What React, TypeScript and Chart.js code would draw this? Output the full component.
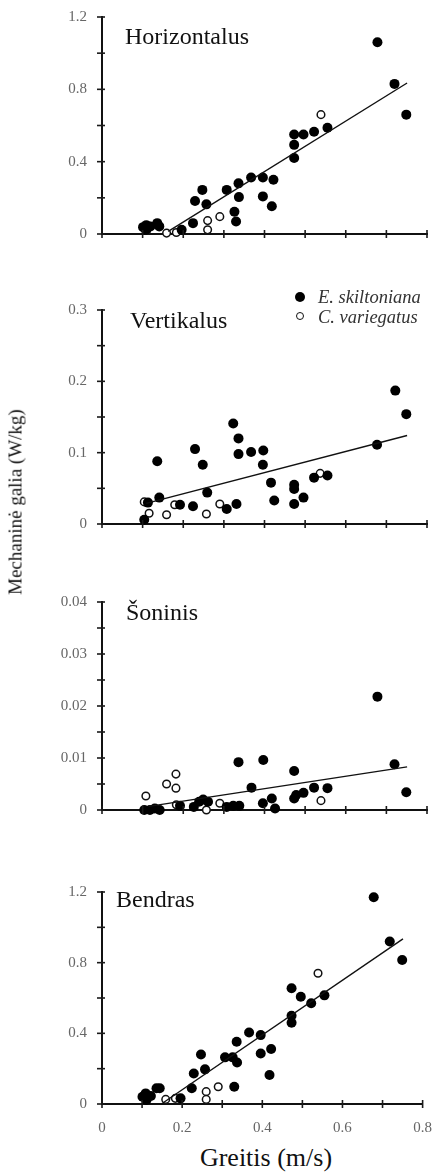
import React, { useEffect, useRef } from 'react';
import { Chart, registerables } from 'chart.js';

Chart.register(...registerables);

const FONT = '"Liberation Serif", "Times New Roman", serif';

// Shared x axis
const xTickValues = [0, 0.1, 0.2, 0.3, 0.4, 0.5, 0.6, 0.7, 0.8];
const xLabelValues = [0, 0.2, 0.4, 0.6, 0.8];

// Panel 1: Horizontalus
const hFilledX = [0.101, 0.109, 0.119, 0.136, 0.141, 0.108, 0.196, 0.224, 0.229, 0.247, 0.257, 0.307, 0.336, 0.337, 0.326, 0.330, 0.367, 0.396, 0.396, 0.422, 0.418, 0.473, 0.473, 0.473, 0.496, 0.522, 0.555, 0.678, 0.720, 0.749];
const hFilledY = [0.038, 0.049, 0.042, 0.060, 0.042, 0.023, 0.023, 0.060, 0.182, 0.244, 0.164, 0.244, 0.280, 0.204, 0.123, 0.069, 0.312, 0.312, 0.208, 0.300, 0.153, 0.420, 0.493, 0.550, 0.550, 0.565, 0.588, 1.060, 0.830, 0.660];
const hOpenX = [0.110, 0.159, 0.183, 0.260, 0.260, 0.290, 0.539];
const hOpenY = [0.020, 0.005, 0.008, 0.074, 0.023, 0.096, 0.660];
const hLineX = [0.163, 0.751];
const hLineY = [0.014, 0.835];
const hYTicks = [0, 0.2, 0.4, 0.6, 0.8, 1.0, 1.2];
const hYLabels = [0, 0.4, 0.8, 1.2];

// Panel 2: Vertikalus
const vFilledX = [0.104, 0.113, 0.136, 0.141, 0.192, 0.224, 0.229, 0.248, 0.259, 0.307, 0.331, 0.323, 0.336, 0.336, 0.367, 0.397, 0.396, 0.416, 0.424, 0.473, 0.473, 0.473, 0.496, 0.522, 0.555, 0.677, 0.722, 0.749];
const vFilledY = [0.006, 0.030, 0.088, 0.037, 0.027, 0.025, 0.105, 0.083, 0.044, 0.021, 0.028, 0.141, 0.120, 0.098, 0.101, 0.103, 0.083, 0.058, 0.033, 0.055, 0.049, 0.028, 0.037, 0.065, 0.068, 0.111, 0.187, 0.154];
const vOpenX = [0.104, 0.116, 0.159, 0.179, 0.257, 0.290, 0.537];
const vOpenY = [0.031, 0.015, 0.013, 0.027, 0.014, 0.028, 0.071];
const vLineX = [0.109, 0.751];
const vLineY = [0.029, 0.124];
const vYTicks = [0, 0.05, 0.1, 0.15, 0.2, 0.25, 0.3];
const vYLabels = [0, 0.1, 0.2, 0.3];

// Panel 3: Šoninis
const sFilledX = [0.104, 0.118, 0.130, 0.142, 0.192, 0.226, 0.239, 0.249, 0.261, 0.307, 0.323, 0.338, 0.336, 0.368, 0.397, 0.396, 0.418, 0.426, 0.473, 0.473, 0.478, 0.496, 0.522, 0.555, 0.678, 0.720, 0.749];
const sFilledY = [0.0000, 0.0000, 0.0003, 0.0000, 0.0008, 0.0006, 0.0016, 0.0020, 0.0016, 0.0006, 0.0008, 0.0008, 0.0092, 0.0043, 0.0096, 0.0013, 0.0022, 0.0003, 0.0075, 0.0022, 0.0029, 0.0033, 0.0043, 0.0042, 0.0218, 0.0088, 0.0034];
const sOpenX = [0.108, 0.159, 0.182, 0.182, 0.183, 0.257, 0.290, 0.539];
const sOpenY = [0.0027, 0.0050, 0.0042, 0.0069, 0.0010, 0.0000, 0.0013, 0.0018];
const sLineX = [0.115, 0.751];
const sLineY = [0.0007, 0.0083];
const sYTicks = [0, 0.005, 0.01, 0.015, 0.02, 0.025, 0.03, 0.035, 0.04];
const sYLabels = [0, 0.01, 0.02, 0.03, 0.04];

// Panel 4: Bendras
const bFilledX = [0.101, 0.109, 0.122, 0.136, 0.144, 0.111, 0.196, 0.224, 0.229, 0.247, 0.257, 0.307, 0.326, 0.336, 0.337, 0.330, 0.367, 0.396, 0.396, 0.422, 0.418, 0.473, 0.473, 0.473, 0.496, 0.522, 0.555, 0.678, 0.718, 0.749];
const bFilledY = [0.041, 0.060, 0.045, 0.089, 0.089, 0.023, 0.032, 0.089, 0.173, 0.280, 0.196, 0.264, 0.264, 0.352, 0.235, 0.098, 0.405, 0.390, 0.286, 0.311, 0.164, 0.655, 0.500, 0.460, 0.607, 0.570, 0.615, 1.170, 0.920, 0.815];
const bOpenX = [0.159, 0.183, 0.260, 0.260, 0.290, 0.539];
const bOpenY = [0.026, 0.032, 0.070, 0.026, 0.098, 0.740];
const bLineX = [0.148, 0.751];
const bLineY = [0.0, 0.935];
const bYTicks = [0, 0.2, 0.4, 0.6, 0.8, 1.0, 1.2];
const bYLabels = [0, 0.4, 0.8, 1.2];

const panelTitles = ['Horizontalus', 'Vertikalus', 'Šoninis', 'Bendras'];
const legendLabels = ['E. skiltoniana', 'C. variegatus'];
const xTitle = 'Greitis (m/s)';
const yTitle = 'Mechaninė galia (W/kg)';

const zip = (xs: number[], ys: number[]) => xs.map((x, i) => ({ x, y: ys[i] }));

const panels = [
  { fx: hFilledX, fy: hFilledY, ox: hOpenX, oy: hOpenY, lx: hLineX, ly: hLineY, yTicks: hYTicks, yLabels: hYLabels, top: 17, bottom: 238, showX: false },
  { fx: vFilledX, fy: vFilledY, ox: vOpenX, oy: vOpenY, lx: vLineX, ly: vLineY, yTicks: vYTicks, yLabels: vYLabels, top: 310, bottom: 528, showX: false },
  { fx: sFilledX, fy: sFilledY, ox: sOpenX, oy: sOpenY, lx: sLineX, ly: sLineY, yTicks: sYTicks, yLabels: sYLabels, top: 602, bottom: 814, showX: false },
  { fx: bFilledX, fy: bFilledY, ox: bOpenX, oy: bOpenY, lx: bLineX, ly: bLineY, yTicks: bYTicks, yLabels: bYLabels, top: 892, bottom: 1104, showX: true },
];

const PAD_TOP = 20;
const Y_W = 60;
const LEFT = 102;
const RIGHT = 427;
const W = 439;

const crossTicks = {
  id: 'crossTicks',
  afterDraw(chart: any) {
    const o = chart.options.plugins.crossTicks;
    if (!o) return;
    const { ctx } = chart;
    const xs = chart.scales.x;
    const ys = chart.scales.y;
    ctx.save();
    ctx.strokeStyle = '#1a1a1a';
    ctx.lineWidth = 1.6;
    const x0 = chart.chartArea.left;
    for (const v of o.yTicks) {
      const y = ys.getPixelForValue(v);
      ctx.beginPath();
      ctx.moveTo(x0 - 5, y);
      ctx.lineTo(x0 + 3, y);
      ctx.stroke();
    }
    const y0 = chart.chartArea.bottom;
    for (const v of o.xTicks) {
      const x = xs.getPixelForValue(v);
      ctx.beginPath();
      ctx.moveTo(x, y0 - 4);
      ctx.lineTo(x, y0 + 4);
      ctx.stroke();
    }
    ctx.restore();
  },
};

function fmt(v: number) {
  return String(Math.round(v * 1000) / 1000);
}

function Panel({ p }: { p: any }) {
  const ref = useRef<HTMLCanvasElement | null>(null);
  const xH = p.showX ? 30 : 12;
  const h = p.bottom - p.top + PAD_TOP + xH;
  useEffect(() => {
    if (!ref.current) return;
    const chart = new Chart(ref.current, {
      type: 'scatter',
      data: {
        datasets: [
          {
            data: zip(p.lx, p.ly),
            showLine: true,
            borderColor: '#111',
            borderWidth: 1.4,
            pointRadius: 0,
            clip: false,
          } as any,
          {
            data: zip(p.fx, p.fy),
            pointStyle: 'circle',
            pointRadius: 5,
            backgroundColor: '#000',
            borderColor: '#000',
            borderWidth: 0,
            clip: false,
          },
          {
            data: zip(p.ox, p.oy),
            pointStyle: 'circle',
            pointRadius: 3.8,
            backgroundColor: '#fff',
            borderColor: '#111',
            borderWidth: 1.5,
            clip: false,
          },
        ],
      },
      options: {
        animation: false,
        responsive: false,
        maintainAspectRatio: false,
        events: [],
        layout: { padding: { top: PAD_TOP, bottom: 0, left: LEFT - Y_W, right: W - RIGHT } },
        plugins: {
          legend: { display: false },
          tooltip: { enabled: false },
          crossTicks: { yTicks: p.yTicks, xTicks: xTickValues },
        } as any,
        scales: {
          x: {
            type: 'linear',
            min: 0,
            max: 0.8,
            grid: { display: false },
            border: { display: true, color: '#111', width: 2 },
            afterBuildTicks: (s: any) => {
              s.ticks = xLabelValues.map((v) => ({ value: v }));
            },
            afterFit: (s: any) => {
              s.height = xH;
            },
            ticks: {
              display: p.showX,
              padding: 7,
              color: '#666',
              font: { family: FONT, size: 15 },
              callback: (v: any) => fmt(Number(v)),
              maxRotation: 0,
              autoSkip: false,
            },
          },
          y: {
            type: 'linear',
            min: 0,
            max: p.yTicks[p.yTicks.length - 1],
            grid: { display: false },
            border: { display: true, color: '#111', width: 2 },
            afterBuildTicks: (s: any) => {
              s.ticks = p.yLabels.map((v: number) => ({ value: v }));
            },
            afterFit: (s: any) => {
              s.width = Y_W;
            },
            ticks: {
              padding: 7,
              color: '#666',
              font: { family: FONT, size: 15 },
              callback: (v: any) => fmt(Number(v)),
              autoSkip: false,
            },
          },
        },
      },
      plugins: [crossTicks],
    });
    return () => chart.destroy();
  }, []);
  return (
    <canvas
      ref={ref}
      width={W}
      height={h}
      style={{ position: 'absolute', left: 0, top: p.top - PAD_TOP, width: W, height: h, display: 'block' }}
    />
  );
}

const textBase: React.CSSProperties = {
  position: 'absolute',
  fontFamily: FONT,
  color: '#111',
  whiteSpace: 'nowrap',
  lineHeight: 1,
};

export default function App() {
  const titlePos = [
    { left: 125, top: 24 },
    { left: 130, top: 308 },
    { left: 126, top: 600 },
    { left: 116, top: 887 },
  ];
  return (
    <div style={{ position: 'absolute', left: 0, top: 0, width: W, height: 1173, background: '#fff', overflow: 'hidden' }}>
      {panels.map((p, i) => (
        <Panel key={i} p={p} />
      ))}
      {panelTitles.map((t, i) => (
        <div key={t} style={{ ...textBase, fontSize: 24, left: titlePos[i].left, top: titlePos[i].top }}>
          {t}
        </div>
      ))}
      {/* legend */}
      <div style={{ position: 'absolute', left: 295, top: 292, width: 10, height: 10, borderRadius: '50%', background: '#000' }} />
      <div style={{ ...textBase, fontStyle: 'italic', fontSize: 18.5, color: '#333', left: 318, top: 288 }}>{legendLabels[0]}</div>
      <div style={{ position: 'absolute', left: 296, top: 312, width: 6, height: 6, borderRadius: '50%', border: '1.5px solid #111', background: '#fff' }} />
      <div style={{ ...textBase, fontStyle: 'italic', fontSize: 18.5, color: '#333', left: 318, top: 308 }}>{legendLabels[1]}</div>
      {/* axis titles */}
      <div style={{ ...textBase, fontSize: 26, left: 266, top: 1158, transform: 'translate(-50%, -50%)' }}>{xTitle}</div>
      <div style={{ ...textBase, fontSize: 19, left: 15, top: 502, transform: 'translate(-50%, -50%) rotate(-90deg)' }}>{yTitle}</div>
    </div>
  );
}
